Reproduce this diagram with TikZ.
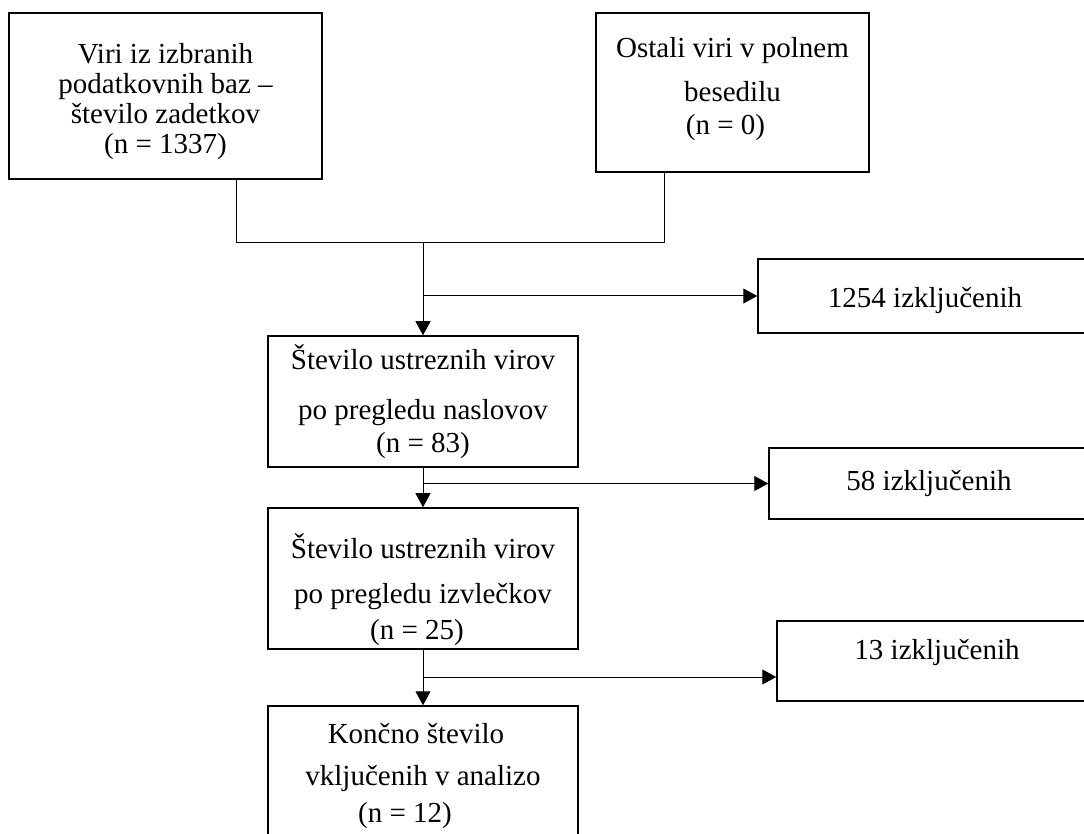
\documentclass[tikz,border=0pt]{standalone}
\usepackage{fontspec}
\setmainfont{Liberation Serif}
\usetikzlibrary{arrows.meta}
\begin{document}
\begin{tikzpicture}[x=1pt,y=1pt,>={Triangle[length=14pt,width=15pt]},line join=miter,
	font=\fontsize{29}{33}\selectfont,
	box/.style={draw,line width=1.5pt,align=center,inner sep=0pt}]
		\useasboundingbox (0,0) rectangle (1084,833);
		\clip (0,0) rectangle (1084,833);
		\node[box,minimum width=313,minimum height=166,font=\fontsize{29}{30}\selectfont] (izvori) at (165.5,737)
		{\rule{0pt}{32pt}Viri iz izbranih\\podatkovnih baz –\\število zadetkov\\(n = 1337)};
		\node[box,minimum width=273,minimum height=159] (ostali) at (732.5,740.5)
		{Ostali viri v polnem\\[11pt]besedilu\hspace*{30pt}\\(n = 0)\hspace*{14pt}\rule[-14pt]{0pt}{14pt}};
		\node[box,minimum width=310,minimum height=131] (naslovi) at (423,431.5)
		{Število ustreznih virov\\[17pt]po pregledu naslovov\hspace*{12pt}\\(n = 83)};
		\node[box,minimum width=310,minimum height=141] (izvlecki) at (423,254.5)
		{\rule{0pt}{48pt}Število ustreznih virov\\[12pt]po pregledu izvlečkov\hspace*{8pt}\\[3pt](n = 25)\hspace*{12pt}};
		\node[box,minimum width=310,minimum height=140] (analiza) at (423,57)
		{Končno število\hspace*{14pt}\\[9pt]vključenih v analizo\hspace*{24pt}\\[4pt](n = 12)\hspace*{36pt}};
		\node[box,minimum width=334,minimum height=74] (izk1) at (925,537) {\rule{0pt}{30pt}1254 izključenih};
		\node[box,minimum width=320,minimum height=71] (izk2) at (929,349.5) {58 izključenih};
		\node[box,minimum width=320,minimum height=80] (izk3) at (937,172) {\rule[-23pt]{0pt}{23pt}13 izključenih};
		\coordinate (j1) at (236,590);
		\coordinate (j2) at (664,590);
		\coordinate (br3) at (423,156);
		\draw[line width=1pt] (izvori.south -| j1)--(j1)--(j2)--(ostali.south -| j2);
		\draw[line width=1pt,->] (j1 -| naslovi.north)--(naslovi.north);
		\draw[line width=1pt,->] (naslovi.north |- izk1.west)--(izk1.west);
		\draw[line width=1pt,->] (naslovi.south)--(izvlecki.north);
		\draw[line width=1pt,->] (naslovi.south |- izk2.west)--(izk2.west);
		\draw[line width=1pt,->] (izvlecki.south)--(analiza.north);
		\draw[line width=1pt,->] (br3)--(br3 -| izk3.west);
		\end{tikzpicture}
\end{document}
